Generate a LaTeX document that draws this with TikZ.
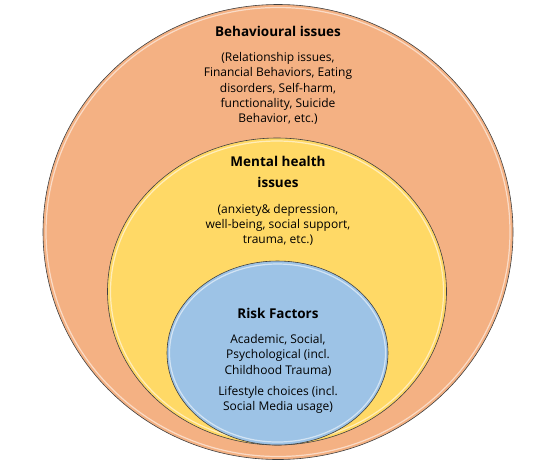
\documentclass[tikz,border=0pt]{standalone}
\usepackage{fontspec}
\setmainfont{Open Sans}
\usetikzlibrary{shapes.geometric,positioning}

\definecolor{behavfill}{HTML}{F4B183}
\definecolor{mentalfill}{HTML}{FFD966}
\definecolor{riskfill}{HTML}{9DC3E6}

\begin{document}
\begin{tikzpicture}[x=1pt,y=-1pt,
  ring/.style={ellipse,draw=black!75,line width=0.6pt,inner sep=0pt},
  shine/.style={white,opacity=0.55,line width=1.2pt},
  title/.style={font=\fontsize{13.5}{21}\selectfont\bfseries,align=center,inner sep=0pt},
  body/.style={font=\fontsize{12}{15.2}\selectfont,align=center,inner sep=0pt},
  node distance=16pt]
  \useasboundingbox (0,0) rectangle (534,467);

  % rings, outside in
  \node[ring,fill=behavfill,minimum width=470,minimum height=455] (behav) at (278,232) {};
  \draw[shine] (behav.center) ellipse [x radius=232,y radius=224.5];
  \node[ring,fill=mentalfill,minimum width=339,minimum height=307] (mental) at (277,291.5) {};
  \draw[shine] (mental.center) ellipse [x radius=166.5,y radius=150.5];
  \node[ring,fill=riskfill,minimum width=221,minimum height=184] (risk) at (277.5,353) {};
  \draw[shine] (risk.center) ellipse [x radius=108,y radius=89];

  % texts
  \node[title] (behavtitle) at (278,31) {Behavioural issues};
  \node[body,below=of behavtitle] (behavtext) {(Relationship issues,\\Financial Behaviors, Eating\\disorders, Self-harm,\\functionality, Suicide\\Behavior, etc.)};

  \node[title,text depth=0pt] (mentaltitle) at (278,172) {Mental health\\issues};
  \node[body,below=of mentaltitle] (mentaltext) {(anxiety\& depression,\\well-being, social support,\\trauma, etc.)};

  \node[title] (risktitle) at (278,313) {Risk Factors};
  \node[body,below=of risktitle] (risktext) {Academic, Social,\\Psychological (incl.\\Childhood Trauma)};
  \node[body,below=10pt of risktext] (lifetext) {Lifestyle choices (incl.\\Social Media usage)};
\end{tikzpicture}
\end{document}
